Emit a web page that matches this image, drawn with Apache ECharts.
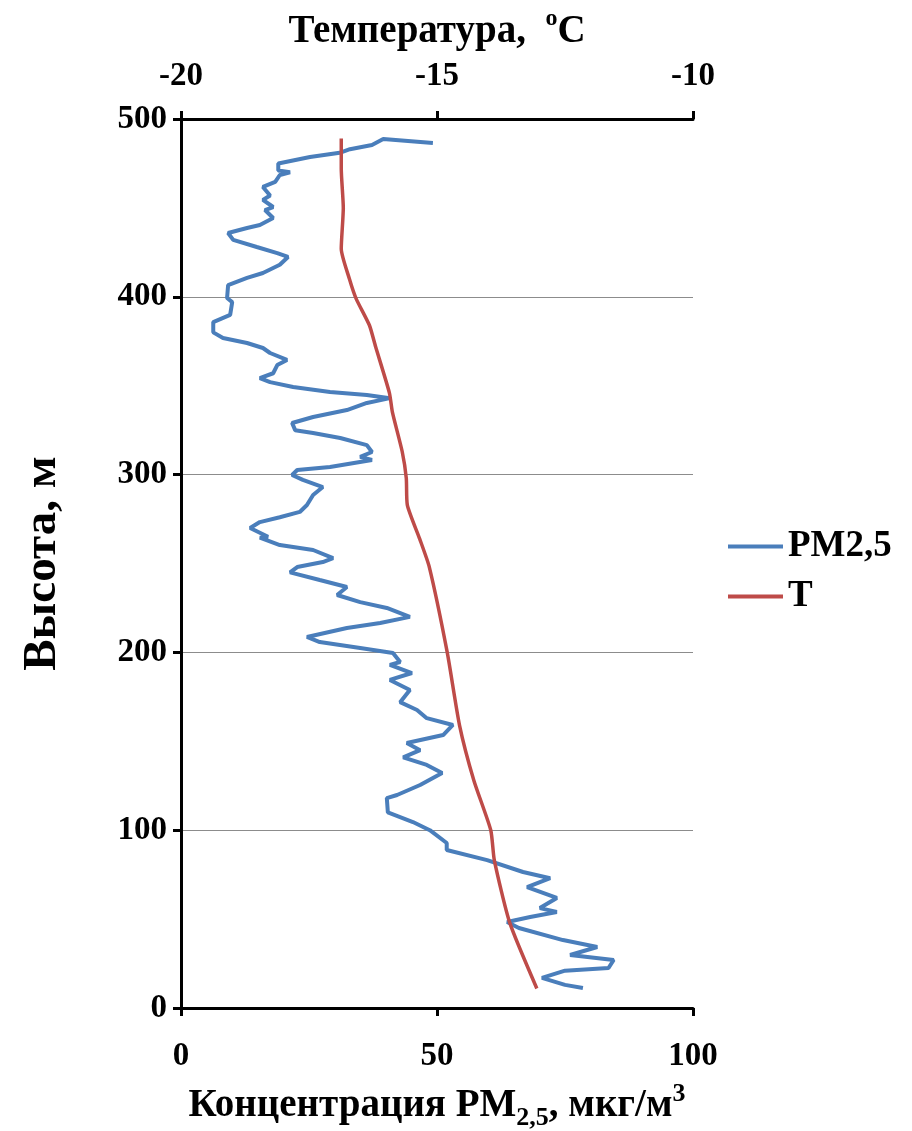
<!DOCTYPE html>
<html>
<head>
<meta charset="utf-8">
<script src="https://cdn.jsdelivr.net/npm/echarts@6/dist/echarts.min.js"></script>
<style>
  html, body { margin: 0; padding: 0; background: #fff; }
  #chart { width: 912px; height: 1131px; }
</style>
</head>
<body>
<div id="chart"></div>
<script>
// PM2.5 concentration profile (height in m, concentration in µg/m3)
const pmHeight = [486.5, 488.7, 485.4, 483, 481, 478.6, 475, 471, 470, 468.5, 464.6, 461.8, 457, 454.5, 450.5, 448.8, 444.3, 440.4, 438.7, 435.9, 432, 428, 424.6, 422.4, 418, 413.4, 410.6, 406.6, 399.3, 397, 389.8, 385.8, 380, 376.8, 374, 371.2, 368.4, 364.5, 361.6, 357, 354.3, 352, 349.3, 346.5, 344.8, 343, 340.3, 336.3, 332.4, 329, 325, 323.4, 320.6, 316.6, 312.7, 310, 308.2, 304.3, 302.6, 299.8, 297, 293, 288.5, 282.9, 279, 276, 273.3, 270, 265, 264.5, 260.4, 257.6, 253, 250.8, 248, 245, 240.7, 236.8, 232.3, 228.3, 225, 220, 216.5, 213.7, 208.7, 205.8, 202.5, 199.7, 194.6, 193, 188.4, 184.5, 178.9, 172, 167.6, 163, 159.2, 153.5, 149, 145, 141, 136.7, 132.2, 125.4, 119.8, 118, 110, 104.6, 100, 92.8, 88.9, 83.2, 76.5, 73, 68, 61.9, 56.2, 54, 51.2, 48.4, 45, 38.2, 34.3, 29.8, 27, 22.5, 21, 16.9, 13, 11.2];
const pmConc = [49.2, 39.5, 37.3, 33.0, 31.0, 25.2, 19.0, 19.0, 21.3, 19.3, 18.4, 16.0, 17.4, 16.0, 18.0, 16.4, 18.0, 15.4, 12.9, 9.2, 10.2, 14.8, 18.8, 20.9, 19.3, 16.0, 12.9, 9.2, 9.0, 10.0, 9.6, 6.3, 6.3, 8.2, 12.9, 16.0, 17.4, 20.7, 18.8, 18.0, 15.4, 17.4, 21.9, 29.1, 36.3, 40.8, 36.3, 32.4, 25.8, 21.7, 22.3, 25.8, 31.1, 36.3, 37.3, 35.0, 37.3, 29.1, 22.7, 21.7, 23.8, 27.7, 25.8, 24.6, 23.2, 19.3, 15.4, 13.5, 17.0, 15.4, 19.3, 25.8, 29.7, 27.7, 22.7, 21.3, 27.1, 32.4, 30.5, 35.0, 40.2, 44.7, 38.9, 32.4, 24.6, 27.1, 35.0, 41.4, 42.8, 40.8, 45.1, 40.8, 44.7, 42.8, 46.1, 48.0, 53.1, 51.2, 44.1, 46.7, 43.4, 48.0, 51.0, 46.7, 42.2, 40.2, 40.4, 45.3, 48.6, 51.9, 51.9, 59.8, 66.8, 72.1, 67.6, 73.4, 70.1, 73.4, 68.2, 63.7, 66.0, 74.6, 81.3, 76.0, 84.5, 83.5, 75.0, 70.5, 75.0, 78.5];

// Temperature profile (height in m, temperature in °C)
const tHeight = [489, 472, 450, 427, 410, 399, 384, 372, 346, 335, 313, 298, 283, 264, 248, 200, 159, 128, 100, 83, 48, 11];
const tTemp = [-16.87, -16.87, -16.83, -16.87, -16.71, -16.58, -16.32, -16.20, -15.93, -15.87, -15.68, -15.60, -15.58, -15.34, -15.15, -14.80, -14.56, -14.28, -13.95, -13.88, -13.58, -13.05];

// Axis ticks
const concTicks = { min: 0, max: 100, interval: 50 };
const tempTicks = { min: -20, max: -10, interval: 5 };
const heightTicks = { min: 0, max: 500, interval: 100 };

const seriesNames = ['PM2,5', 'T'];

const FONT = '"Liberation Serif", "Times New Roman", serif';
const pmData = pmHeight.map((h, i) => [pmConc[i], h]);
const tData = tHeight.map((h, i) => [tTemp[i], h]);

const axisLineStyle = { color: '#000', width: 3 };
const labelStyle = { color: '#000', fontFamily: FONT, fontWeight: 'bold', fontSize: 33 };
const titleText = { fontFamily: FONT, fontWeight: 'bold', fontSize: 39, lineHeight: 50, color: '#000' };

const chart = echarts.init(document.getElementById('chart'), null, { renderer: 'canvas' });
chart.setOption({
  backgroundColor: '#fff',
  animation: false,
  grid: { left: 181, right: 219, top: 119, bottom: 123, containLabel: false, outerBoundsMode: 'none' },
  legend: {
    orient: 'vertical',
    left: 728,
    top: 528,
    padding: 0,
    itemWidth: 55,
    itemHeight: 4,
    itemGap: 13,
    icon: 'rect',
    data: seriesNames,
    textStyle: { color: '#000', fontFamily: FONT, fontWeight: 'bold', fontSize: 37 }
  },
  xAxis: [
    {
      type: 'value', position: 'bottom',
      min: concTicks.min, max: concTicks.max, interval: concTicks.interval,
      axisLine: { show: true, onZero: false, lineStyle: axisLineStyle },
      axisTick: { show: true, length: 8, lineStyle: axisLineStyle },
      axisLabel: Object.assign({ margin: 32 }, labelStyle),
      splitLine: { show: false },
      name: '{a|Концентрация PM}{s|2,5}{a|, мкг/м}{p|3}',
      nameLocation: 'middle',
      nameGap: 73,
      nameMoveOverlap: false,
      nameTextStyle: {
        rich: {
          a: titleText,
          s: { fontFamily: FONT, fontWeight: 'bold', fontSize: 26, lineHeight: 26, verticalAlign: 'bottom', color: '#000' },
          p: { fontFamily: FONT, fontWeight: 'bold', fontSize: 26, lineHeight: 26, verticalAlign: 'top', color: '#000' }
        }
      }
    },
    {
      type: 'value', position: 'top',
      min: tempTicks.min, max: tempTicks.max, interval: tempTicks.interval,
      axisLine: { show: true, onZero: false, lineStyle: axisLineStyle },
      axisTick: { show: true, length: 8, lineStyle: axisLineStyle },
      axisLabel: Object.assign({ margin: 26 }, labelStyle),
      splitLine: { show: false },
      name: '{a|Температура,  }{o|o}{a|C}',
      nameLocation: 'middle',
      nameGap: 62,
      nameMoveOverlap: false,
      nameTextStyle: {
        rich: {
          a: titleText,
          o: { fontFamily: FONT, fontWeight: 'bold', fontSize: 24, lineHeight: 26, verticalAlign: 'top', color: '#000' }
        }
      }
    }
  ],
  yAxis: {
    type: 'value',
    min: heightTicks.min, max: heightTicks.max, interval: heightTicks.interval,
    axisLine: { show: true, onZero: false, lineStyle: axisLineStyle },
    axisTick: { show: true, length: 8, lineStyle: axisLineStyle },
    axisLabel: Object.assign({ margin: 14 }, labelStyle),
    splitLine: { show: true, lineStyle: { color: '#8c8c8c', width: 1 } },
    name: 'Высота, м',
    nameLocation: 'middle',
    nameGap: 115,
    nameMoveOverlap: false,
    nameTextStyle: { color: '#000', fontFamily: FONT, fontWeight: 'bold', fontSize: 47 }
  },
  series: [
    {
      name: seriesNames[0], type: 'line', xAxisIndex: 0, yAxisIndex: 0,
      data: pmData, showSymbol: false, symbol: 'none',
      lineStyle: { color: '#4a7ebb', width: 4 }, itemStyle: { color: '#4a7ebb' },
      z: 3
    },
    {
      name: seriesNames[1], type: 'line', xAxisIndex: 1, yAxisIndex: 0,
      data: tData, showSymbol: false, symbol: 'none', smooth: 0.2,
      lineStyle: { color: '#be4b48', width: 3.5 }, itemStyle: { color: '#be4b48' },
      z: 4
    }
  ]
});
</script>
</body>
</html>
